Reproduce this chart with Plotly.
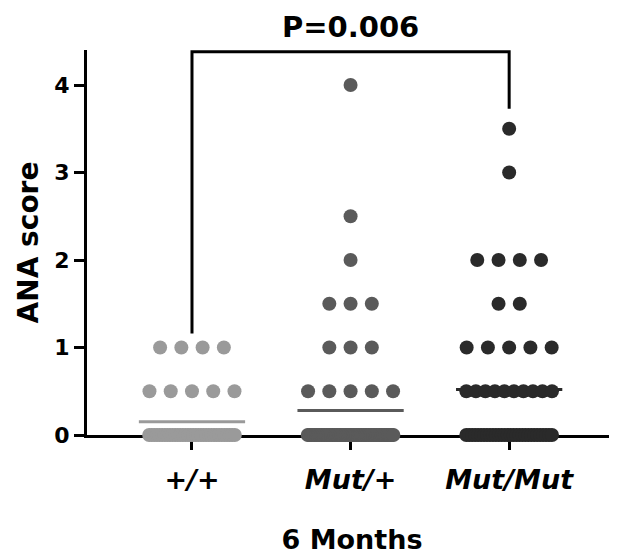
import plotly.graph_objects as go

# ---- data ----
groups = ["+/+", "Mut/+", "Mut/Mut"]
tick_labels = ["<b><i>+/+</i></b>", "<b><i>Mut/+</i></b>", "<b><i>Mut/Mut</i></b>"]
wt_levels = [0, 0.5, 1.0]
wt_counts = [34, 5, 4]
het_levels = [0, 0.5, 1.0, 1.5, 2.0, 2.5, 4.0]
het_counts = [52, 5, 3, 3, 1, 1, 1]
hom_levels = [0, 0.5, 1.0, 1.5, 2.0, 3.0, 3.5]
hom_counts = [30, 10, 5, 2, 4, 1, 1]
colors = ["#9a9a9a", "#5a5a5a", "#2a2a2a"]
y_ticks = [0, 1, 2, 3, 4]
p_text = "P=0.006"
bracket_left_bottom = 1.16
bracket_top = 4.38
bracket_right_bottom = 3.73

SPACING = 0.134
MAX_HALF = 0.27
MEAN_HALF = 0.335

fig = go.Figure()
all_levels = [wt_levels, het_levels, hom_levels]
all_counts = [wt_counts, het_counts, hom_counts]
for gi, (levels, counts) in enumerate(zip(all_levels, all_counts)):
    xs, ys = [], []
    total, n = 0.0, 0
    for lev, c in zip(levels, counts):
        step = SPACING
        if c > 1 and (c - 1) * SPACING / 2 > MAX_HALF:
            step = 2 * MAX_HALF / (c - 1)
        for k in range(c):
            xs.append(gi + (k - (c - 1) / 2) * step)
            ys.append(lev)
        total += lev * c
        n += c
    mean = total / n
    fig.add_trace(go.Scatter(
        x=[gi - MEAN_HALF, gi + MEAN_HALF], y=[mean, mean], mode="lines",
        line=dict(color=colors[gi], width=3), cliponaxis=False, hoverinfo="skip",
        showlegend=False))
    fig.add_trace(go.Scatter(
        x=xs, y=ys, mode="markers", cliponaxis=False, showlegend=False,
        marker=dict(size=14, color=colors[gi], line=dict(width=0)), name=groups[gi]))

# significance bracket
fig.add_trace(go.Scatter(
    x=[0, 0, 2, 2],
    y=[bracket_left_bottom, bracket_top, bracket_top, bracket_right_bottom],
    mode="lines", line=dict(color="black", width=3), cliponaxis=False,
    hoverinfo="skip", showlegend=False))
fig.add_annotation(x=1, y=bracket_top, yref="y", xref="x", text="<b>" + p_text + "</b>",
                   showarrow=False, yanchor="bottom", yshift=6,
                   font=dict(family="DejaVu Sans", size=29, color="black"))

# page body has an 8px margin: size the figure to fill the rest of the window
fig.update_layout(
    width=609, height=548,
    margin=dict(l=79, r=0, t=42, b=121),
    plot_bgcolor="white", paper_bgcolor="white",
    font=dict(family="DejaVu Sans", color="black"),
    showlegend=False,
)
fig.update_xaxes(
    range=[-0.662, 2.68], tickvals=[0, 1, 2], ticktext=tick_labels,
    showline=True, linecolor="black", linewidth=3, layer="below traces",
    ticks="outside", ticklen=12, tickwidth=3, tickcolor="black",
    tickfont=dict(family="DejaVu Sans", size=27, color="black"),
    ticklabelstandoff=7,
    showgrid=False, zeroline=False,
    title=dict(text="<b>6 Months</b>", font=dict(family="DejaVu Sans", size=27, color="black"),
               standoff=36),
)
fig.update_yaxes(
    range=[0, 4.4], tickvals=y_ticks, ticktext=[f"<b>{v}</b>" for v in y_ticks],
    showline=True, linecolor="black", linewidth=3, layer="below traces",
    ticks="outside", ticklen=10, tickwidth=3, tickcolor="black",
    tickfont=dict(family="DejaVu Sans", size=22, color="black"),
    showgrid=False, zeroline=False,
    title=dict(text="<b>ANA score</b>", font=dict(family="DejaVu Sans", size=28, color="black"),
               standoff=8),
)

fig.write_html("out.html")
